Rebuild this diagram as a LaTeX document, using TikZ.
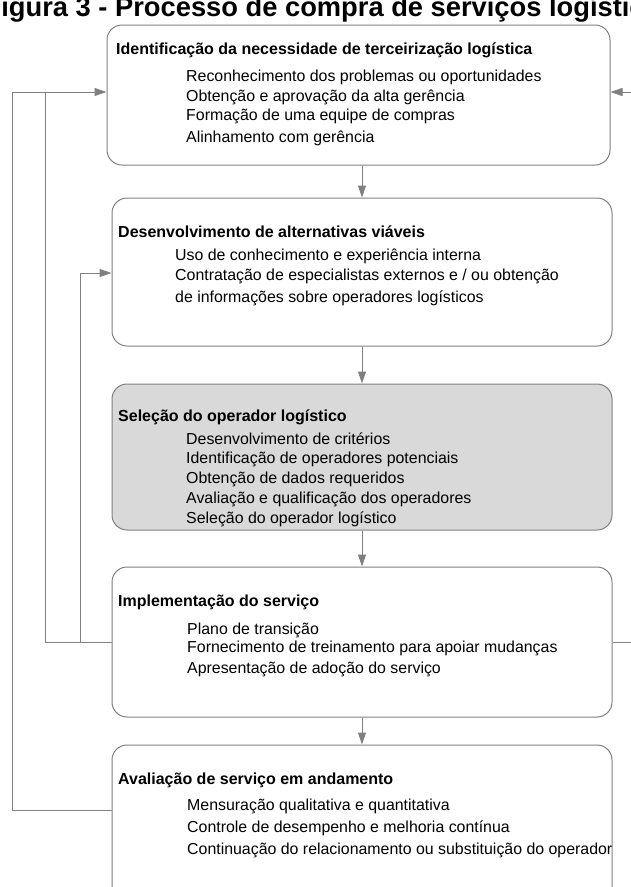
\documentclass[tikz,border=0pt]{standalone}
\usepackage{fontspec}
\setmainfont{Liberation Sans}
\usetikzlibrary{arrows.meta}
\definecolor{linegray}{RGB}{128,128,128}
\definecolor{boxfill}{RGB}{217,217,217}
\begin{document}
\begin{tikzpicture}[x=1pt,y=-1pt,
  stagebox/.style={draw=linegray, line width=1pt, rounded corners=15pt, fill=white,
    minimum width=#1, inner sep=0pt},
  head/.style={anchor=west, inner sep=0pt, text height=11pt, text depth=3pt,
    font=\fontsize{16}{19}\selectfont\bfseries},
  item/.style={anchor=west, inner sep=0pt, text height=11pt, text depth=3pt,
    font=\fontsize{15.9}{19}\selectfont},
  link/.style={draw=linegray, line width=1pt},
  arr/.style={link, -{Triangle[length=12pt,width=8pt]}}]
\useasboundingbox (0,0) rectangle (630,887);

% title
\node[anchor=base west, inner sep=0pt, font=\fontsize{27.3}{31}\selectfont\bfseries]
  (title) at (-15.5,16) {Figura 3 - Processo de compra de serviços logísticos};

% stage boxes
\node[stagebox=503pt, minimum height=140pt] (b1) at (358.5,95) {};
\node[stagebox=500pt, minimum height=148pt] (b2) at (362,272) {};
\node[stagebox=500pt, minimum height=146pt, fill=boxfill] (b3) at (362,457) {};
\node[stagebox=500pt, minimum height=150pt] (b4) at (362,642) {};
\node[stagebox=500pt, minimum height=160pt] (b5) at (362,825) {};

% box texts
\node[head] (h1) at (116,50) {Identificação da necessidade de terceirização logística};
\node[item] (t11) at (186,77) {Reconhecimento dos problemas ou oportunidades};
\node[item] (t12) at (186,97) {Obtenção e aprovação da alta gerência};
\node[item] (t13) at (186,116) {Formação de uma equipe de compras};
\node[item] (t14) at (186,138) {Alinhamento com gerência};

\node[head] (h2) at (118,233) {Desenvolvimento de alternativas viáveis};
\node[item] (t21) at (175,256) {Uso de conhecimento e experiência interna};
\node[item] (t22) at (175,276) {Contratação de especialistas externos e / ou obtenção};
\node[item] (t23) at (175,298) {de informações sobre operadores logísticos};

\node[head] (h3) at (118,417) {Seleção do operador logístico};
\node[item] (t31) at (186,440) {Desenvolvimento de critérios};
\node[item] (t32) at (186,459) {Identificação de operadores potenciais};
\node[item] (t33) at (186,479) {Obtenção de dados requeridos};
\node[item] (t34) at (186,499) {Avaliação e qualificação dos operadores};
\node[item] (t35) at (186,519) {Seleção do operador logístico};

\node[head] (h4) at (118,602) {Implementação do serviço};
\node[item] (t41) at (187,630) {Plano de transição};
\node[item] (t42) at (187,648) {Fornecimento de treinamento para apoiar mudanças};
\node[item] (t43) at (187,669) {Apresentação de adoção do serviço};

\node[head] (h5) at (118,780) {Avaliação de serviço em andamento};
\node[item] (t51) at (187,806) {Mensuração qualitativa e quantitativa};
\node[item] (t52) at (187,828) {Controle de desempenho e melhoria contínua};
\node[item] (t53) at (187,850) {Continuação do relacionamento ou substituição do operador};

% forward flow
\draw[arr] (b2.north |- b1.south) -- (b2.north);
\draw[arr] (b2.south) -- (b3.north);
\draw[arr] (b3.south) -- (b4.north);
\draw[arr] (b4.south) -- (b5.north);

% feedback loops on the left
\coordinate (outerTop) at (12,92);
\coordinate (innerTop) at (45,92);
\coordinate (midTop) at (80,273);
\coordinate (implLeft) at (112,642);
\coordinate (evalLeft) at (112,810);
\draw[link] (evalLeft) -| (outerTop);
\draw[arr] (outerTop) -- (b1.west |- outerTop);
\draw[link] (implLeft) -| (innerTop);
\draw[arr] (implLeft -| midTop) -- (midTop) -- (b2.west |- midTop);

% feedback loops leaving on the right
\coordinate (rightIn) at (631,92);
\coordinate (rightOut) at (631,642);
\draw[arr] (rightIn) -- (b1.east |- rightIn);
\draw[link] (b4.east |- rightOut) -- (rightOut);
\end{tikzpicture}
\end{document}
